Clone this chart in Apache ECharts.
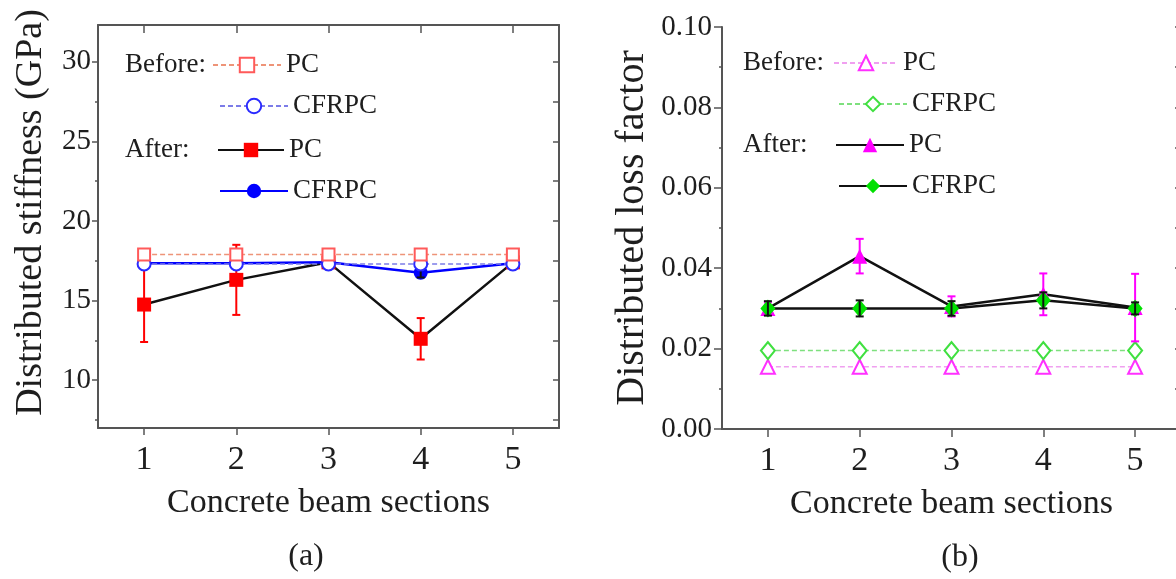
<!DOCTYPE html>
<html>
<head>
<meta charset="utf-8">
<script src="https://cdn.jsdelivr.net/npm/echarts@6/dist/echarts.min.js"></script>
<style>html,body{margin:0;padding:0;background:#fff}#c{width:1176px;height:579px}</style>
</head>
<body>
<div id="c"></div>
<script>
// ---------- data ----------
const sections = ['1', '2', '3', '4', '5'];

// (a) distributed stiffness (GPa)
const stiffBeforePC      = [17.9, 17.9, 17.9, 17.9, 17.9];
const stiffBeforeCFRPC   = [17.3, 17.3, 17.3, 17.3, 17.3];
const stiffAfterPC       = [14.75, 16.3, 17.4, 12.6, 17.4];
const stiffAfterPCErr    = [2.35, 2.2, 0.15, 1.3, 0.2];
const stiffAfterCFRPC    = [17.35, 17.35, 17.4, 16.75, 17.35];
const stiffAfterCFRPCErr = [0.1, 0.1, 0.1, 0.3, 0.1];
const stiffLabelTicks    = [10, 15, 20, 25, 30];
const stiffMinorTicks    = [7.5, 12.5, 17.5, 22.5, 27.5];
const stiffFrameTicks    = [7.5, 10, 12.5, 15, 17.5, 20, 22.5, 25, 27.5, 30];

// (b) distributed loss factor
const lossBeforePC      = [0.0155, 0.0155, 0.0155, 0.0155, 0.0155];
const lossBeforeCFRPC   = [0.0195, 0.0195, 0.0195, 0.0195, 0.0195];
const lossAfterPC       = [0.030, 0.043, 0.0305, 0.0335, 0.0302];
const lossAfterPCErr    = [0.0015, 0.0043, 0.0025, 0.0052, 0.0084];
const lossAfterCFRPC    = [0.030, 0.030, 0.030, 0.032, 0.030];
const lossAfterCFRPCErr = [0.0018, 0.002, 0.0018, 0.002, 0.0015];

const legendLabels = {
  'a-before-PC': 'PC', 'a-before-CFRPC': 'CFRPC', 'a-after-PC': 'PC', 'a-after-CFRPC': 'CFRPC',
  'b-before-PC': 'PC', 'b-before-CFRPC': 'CFRPC', 'b-after-PC': 'PC', 'b-after-CFRPC': 'CFRPC'
};

// ---------- helpers ----------
const FONT = "'Liberation Serif','Times New Roman',serif";
const TXT = '#1e1e1e';
const FRAME = '#555';

function errorBars(xi, yi, vals, errs, color, z) {
  return {
    type: 'custom', xAxisIndex: xi, yAxisIndex: yi, z: z, silent: true,
    encode: { x: 0, y: [1, 2] },
    data: vals.map((v, i) => [i, v - errs[i], v + errs[i]]),
    renderItem: function (params, api) {
      const lo = api.coord([api.value(0), api.value(1)]);
      const hi = api.coord([api.value(0), api.value(2)]);
      const w = 4;
      const st = { stroke: color, lineWidth: 2 };
      return {
        type: 'group', children: [
          { type: 'line', shape: { x1: lo[0], y1: lo[1], x2: hi[0], y2: hi[1] }, style: st },
          { type: 'line', shape: { x1: lo[0] - w, y1: lo[1], x2: lo[0] + w, y2: lo[1] }, style: st },
          { type: 'line', shape: { x1: hi[0] - w, y1: hi[1], x2: hi[0] + w, y2: hi[1] }, style: st }
        ]
      };
    }
  };
}

function legendRow(name, left, cy, w) {
  return {
    data: [name], left: left, top: cy - 14, padding: 0, itemWidth: w, itemHeight: 18,
    selectedMode: false, orient: 'horizontal',
    formatter: n => legendLabels[n],
    textStyle: { fontFamily: FONT, fontSize: 27, color: TXT, lineHeight: 28 }
  };
}

function catAxis(gi, pos, withName) {
  const ax = {
    type: 'category', gridIndex: gi, position: pos, data: sections, boundaryGap: true,
    axisLine: { show: true, lineStyle: { color: FRAME, width: 2 } },
    axisTick: { show: true, alignWithLabel: true, inside: pos === 'top', length: pos === 'top' ? 8 : 7,
                lineStyle: { color: FRAME, width: 1.5 } },
    axisLabel: { show: pos === 'bottom', fontFamily: FONT, fontSize: 34, color: TXT, margin: 15 },
    splitLine: { show: false }
  };
  if (withName) {
    ax.name = 'Concrete beam sections';
    ax.nameLocation = 'middle';
    ax.nameGap = 58;
    ax.nameTextStyle = { fontFamily: FONT, fontSize: 34, color: TXT };
  }
  return ax;
}

// ---------- option ----------
const option = {
  backgroundColor: '#fff',
  animation: false,
  grid: [
    { left: 98, top: 25, width: 461, height: 403, outerBoundsMode: 'none', containLabel: false },
    { left: 722, top: 27, width: 459, height: 402, outerBoundsMode: 'none', containLabel: false }
  ],
  xAxis: [
    catAxis(0, 'bottom', true),
    catAxis(0, 'top', false),
    catAxis(1, 'bottom', true),
    catAxis(1, 'top', false)
  ],
  yAxis: [
    { // 0: (a) left, labels
      type: 'value', gridIndex: 0, position: 'left', min: 7, max: 32.3,
      name: 'Distributed stiffness (GPa)', nameLocation: 'middle', nameGap: 48,
      nameTextStyle: { fontFamily: FONT, fontSize: 38, color: TXT, padding: [0, 0, 0, 28] },
      axisLine: { show: true, lineStyle: { color: FRAME, width: 2 } },
      axisTick: { show: true, length: 6, customValues: stiffLabelTicks, lineStyle: { color: FRAME, width: 1.5 } },
      axisLabel: { fontFamily: FONT, fontSize: 29, color: TXT, margin: 7, customValues: stiffLabelTicks },
      splitLine: { show: false }
    },
    { // 1: (a) left minor ticks
      type: 'value', gridIndex: 0, position: 'left', min: 7, max: 32.3,
      axisLine: { show: false }, axisLabel: { show: false }, splitLine: { show: false },
      axisTick: { show: true, length: 3, customValues: stiffMinorTicks, lineStyle: { color: FRAME, width: 1.5 } }
    },
    { // 2: (a) right frame
      type: 'value', gridIndex: 0, position: 'right', min: 7, max: 32.3,
      axisLine: { show: true, lineStyle: { color: FRAME, width: 2 } },
      axisLabel: { show: false }, splitLine: { show: false },
      axisTick: { show: true, inside: true, length: 6, customValues: stiffFrameTicks, lineStyle: { color: FRAME, width: 1.5 } }
    },
    { // 3: (b) left, labels
      type: 'value', gridIndex: 1, position: 'left', min: 0, max: 0.1, interval: 0.02,
      name: 'Distributed loss factor', nameLocation: 'middle', nameGap: 70,
      nameTextStyle: { fontFamily: FONT, fontSize: 40, color: TXT },
      axisLine: { show: true, lineStyle: { color: FRAME, width: 2 } },
      axisTick: { show: true, length: 8, lineStyle: { color: FRAME, width: 1.5 } },
      minorTick: { show: true, splitNumber: 2, length: 3, lineStyle: { color: FRAME, width: 1.5 } },
      axisLabel: { fontFamily: FONT, fontSize: 29, color: TXT, margin: 10, formatter: v => v.toFixed(2) },
      splitLine: { show: false }
    },
    { // 4: (b) right frame
      type: 'value', gridIndex: 1, position: 'right', min: 0, max: 0.1, interval: 0.01,
      axisLine: { show: true, lineStyle: { color: FRAME, width: 2 } },
      axisLabel: { show: false }, splitLine: { show: false },
      axisTick: { show: true, inside: true, length: 6, lineStyle: { color: FRAME, width: 1.5 } }
    }
  ],
  legend: [
    legendRow('a-before-PC', 212, 65, 68),
    legendRow('a-before-CFRPC', 219, 106, 68),
    legendRow('a-after-PC', 217, 150, 66),
    legendRow('a-after-CFRPC', 219, 191, 68),
    legendRow('b-before-PC', 833, 63, 64),
    legendRow('b-before-CFRPC', 838, 104, 68),
    legendRow('b-after-PC', 835, 145, 68),
    legendRow('b-after-CFRPC', 838, 186, 68)
  ],
  graphic: [
    { type: 'text', x: 125, y: 65, style: { text: 'Before:', fontFamily: FONT, fontSize: 27, fill: TXT, align: 'left', verticalAlign: 'middle' } },
    { type: 'text', x: 125, y: 150, style: { text: 'After:', fontFamily: FONT, fontSize: 27, fill: TXT, align: 'left', verticalAlign: 'middle' } },
    { type: 'text', x: 743, y: 63, style: { text: 'Before:', fontFamily: FONT, fontSize: 27, fill: TXT, align: 'left', verticalAlign: 'middle' } },
    { type: 'text', x: 743, y: 145, style: { text: 'After:', fontFamily: FONT, fontSize: 27, fill: TXT, align: 'left', verticalAlign: 'middle' } },
    { type: 'text', x: 306, y: 557, style: { text: '(a)', fontFamily: FONT, fontSize: 32, fill: TXT, align: 'center', verticalAlign: 'middle' } },
    { type: 'text', x: 960, y: 558, style: { text: '(b)', fontFamily: FONT, fontSize: 32, fill: TXT, align: 'center', verticalAlign: 'middle' } }
  ],
  series: [
    // ---- (a) ----
    {
      name: 'a-after-PC', type: 'line', xAxisIndex: 0, yAxisIndex: 0, data: stiffAfterPC, z: 3,
      symbol: 'rect', symbolSize: 14, lineStyle: { color: '#111', width: 2.5 },
      itemStyle: { color: '#ff0000', borderWidth: 0 }
    },
    errorBars(0, 0, stiffAfterPC, stiffAfterPCErr, '#ff0000', 4),
    {
      name: 'a-after-CFRPC', type: 'line', xAxisIndex: 0, yAxisIndex: 0, data: stiffAfterCFRPC, z: 5,
      symbol: 'circle', symbolSize: 14, lineStyle: { color: '#0000ff', width: 2.5 },
      itemStyle: { color: '#0000ff', borderWidth: 0 }
    },
    errorBars(0, 0, stiffAfterCFRPC, stiffAfterCFRPCErr, '#111', 6),
    {
      name: 'a-before-CFRPC', type: 'line', xAxisIndex: 0, yAxisIndex: 0, data: stiffBeforeCFRPC, z: 7,
      symbol: 'emptyCircle', symbolSize: 13, lineStyle: { color: '#7c7ce8', width: 1.5, type: [5, 3] },
      itemStyle: { color: '#2a2aff', borderColor: '#2a2aff', borderWidth: 2 }
    },
    {
      name: 'a-before-PC', type: 'line', xAxisIndex: 0, yAxisIndex: 0, data: stiffBeforePC, z: 8,
      symbol: 'emptyRect', symbolSize: 12, lineStyle: { color: '#ee9478', width: 1.5, type: [5, 3] },
      itemStyle: { color: '#ff5a5a', borderColor: '#ff5a5a', borderWidth: 1.5 }
    },
    // ---- (b) ----
    {
      name: 'b-before-PC', type: 'line', xAxisIndex: 2, yAxisIndex: 3, data: lossBeforePC, z: 3,
      symbol: 'emptyTriangle', symbolSize: 14, lineStyle: { color: '#f0a0f0', width: 1.5, type: [5, 3] },
      itemStyle: { color: '#ff30ff', borderColor: '#ff30ff', borderWidth: 1.5 }
    },
    {
      name: 'b-before-CFRPC', type: 'line', xAxisIndex: 2, yAxisIndex: 3, data: lossBeforeCFRPC, z: 3,
      symbol: 'emptyDiamond', symbolSize: [14, 17], lineStyle: { color: '#7ee07e', width: 1.5, type: [5, 3] },
      itemStyle: { color: '#40e040', borderColor: '#40e040', borderWidth: 1.5 }
    },
    errorBars(2, 3, lossAfterPC, lossAfterPCErr, '#ff00ff', 4),
    {
      name: 'b-after-PC', type: 'line', xAxisIndex: 2, yAxisIndex: 3, data: lossAfterPC, z: 5,
      symbol: 'triangle', symbolSize: 15, lineStyle: { color: '#111', width: 2.5 },
      itemStyle: { color: '#ff00ff', borderWidth: 0 }
    },
    {
      name: 'b-after-CFRPC', type: 'line', xAxisIndex: 2, yAxisIndex: 3, data: lossAfterCFRPC, z: 6,
      symbol: 'diamond', symbolSize: [15, 18], lineStyle: { color: '#111', width: 2.5 },
      itemStyle: { color: '#00e000', borderWidth: 0 }
    },
    errorBars(2, 3, lossAfterCFRPC, lossAfterCFRPCErr, '#111', 7)
  ]
};

const chart = echarts.init(document.getElementById('c'));
chart.setOption(option);
</script>
</body>
</html>
